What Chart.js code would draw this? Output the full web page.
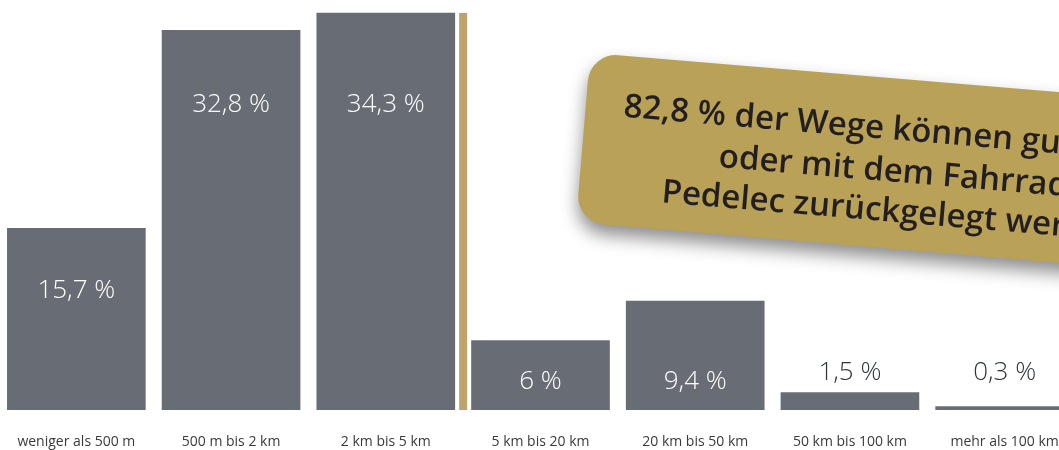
<!DOCTYPE html>
<html>
<head>
<meta charset="utf-8">
<script src="https://cdn.jsdelivr.net/npm/chart.js@4.4.1/dist/chart.umd.min.js"></script>
<style>
  html, body { margin: 0; padding: 0; background: #ffffff; overflow: hidden; width: 1059px; height: 450px; }
  #wrap { position: absolute; left: -1px; top: 0; width: 1083px; height: 450px; }
</style>
</head>
<body>
<div id="wrap"><canvas id="c" width="1083" height="450"></canvas></div>
<script>
// ---- data ----
const categories = ["weniger als 500 m", "500 m bis 2 km", "2 km bis 5 km", "5 km bis 20 km", "20 km bis 50 km", "50 km bis 100 km", "mehr als 100 km"];
const shares = [15.7, 32.8, 34.3, 6, 9.4, 1.5, 0.3];
const valueLabels = ["15,7 %", "32,8 %", "34,3 %", "6 %", "9,4 %", "1,5 %", "0,3 %"];
const calloutLines = ["82,8 % der Wege können gut zu Fuß,", "oder mit dem Fahrrad bzw.", "Pedelec zurückgelegt werden."];

// ---- styling / layout (not data) ----
const BAR_COLOR = "#686c74";
const GOLD_LINE = "#bca46c";
const GOLD_BOX = "#b9a257";
const labelAnchor = [10.35, 26.35, 26.35, 2.42, 2.42, 3.2, 3.2]; // label centre, in axis units
const labelInside = [true, true, true, true, true, false, false];

const valueLabelPlugin = {
  id: "valueLabels",
  afterDatasetsDraw(chart) {
    const ctx = chart.ctx;
    const meta = chart.getDatasetMeta(0);
    const y = chart.scales.y;
    ctx.save();
    ctx.font = "300 26px 'Open Sans'";
    ctx.textAlign = "center";
    ctx.textBaseline = "middle";
    meta.data.forEach((bar, i) => {
      ctx.fillStyle = labelInside[i] ? "#ffffff" : "#30353b";
      ctx.fillText(valueLabels[i], bar.x, y.getPixelForValue(labelAnchor[i]));
    });
    ctx.restore();
  }
};

const dividerPlugin = {
  id: "divider",
  afterDatasetsDraw(chart) {
    const ctx = chart.ctx;
    const meta = chart.getDatasetMeta(0);
    const y = chart.scales.y;
    const a = meta.data[2], b = meta.data[3];
    const xm = (a.x + b.x) / 2;
    const top = y.getPixelForValue(Math.max(...shares));
    const bottom = y.getPixelForValue(0);
    ctx.save();
    ctx.fillStyle = GOLD_LINE;
    ctx.fillRect(xm - 4, top, 8, bottom - top);
    ctx.restore();
  }
};

const calloutPlugin = {
  id: "callout",
  afterDraw(chart) {
    const ctx = chart.ctx;
    ctx.save();
    ctx.translate(591.2, 52.8);
    ctx.rotate(0.0838);
    const w = 720, h = 170, r = 28;
    ctx.beginPath();
    ctx.moveTo(r, 0);
    ctx.lineTo(w - r, 0);
    ctx.arcTo(w, 0, w, r, r);
    ctx.lineTo(w, h - r);
    ctx.arcTo(w, h, w - r, h, r);
    ctx.lineTo(r, h);
    ctx.arcTo(0, h, 0, h - r, r);
    ctx.lineTo(0, r);
    ctx.arcTo(0, 0, r, 0, r);
    ctx.closePath();
    ctx.shadowColor = "rgba(0,0,0,0.45)";
    ctx.shadowBlur = 18;
    ctx.shadowOffsetX = 0;
    ctx.shadowOffsetY = 10;
    ctx.fillStyle = GOLD_BOX;
    ctx.fill();
    ctx.shadowColor = "transparent";
    ctx.fillStyle = "#231f20";
    ctx.font = "600 33px 'Open Sans'";
    ctx.textAlign = "left";
    ctx.textBaseline = "alphabetic";
    const starts = [[38, 61], [137, 103], [83, 143]];
    calloutLines.forEach((t, i) => ctx.fillText(t, starts[i][0], starts[i][1]));
    ctx.restore();
  }
};

new Chart(document.getElementById("c"), {
  type: "bar",
  data: {
    labels: categories,
    datasets: [{
      data: shares,
      backgroundColor: BAR_COLOR,
      borderWidth: 0,
      barThickness: 138
    }]
  },
  options: {
    responsive: false,
    animation: false,
    devicePixelRatio: 1,
    layout: { padding: 0 },
    plugins: { legend: { display: false }, tooltip: { enabled: false } },
    scales: {
      x: {
        grid: { display: false, drawTicks: false },
        border: { display: false },
        ticks: { color: "#3a3a3a", font: { family: "'Open Sans'", size: 14 }, padding: 24, maxRotation: 0, autoSkip: false },
        afterFit(scale) { scale.height = 40; scale.paddingLeft = 0; scale.paddingRight = 0; }
      },
      y: {
        display: false,
        min: 0,
        max: 35.42
      }
    }
  },
  plugins: [dividerPlugin, valueLabelPlugin, calloutPlugin]
});
</script>
</body>
</html>
